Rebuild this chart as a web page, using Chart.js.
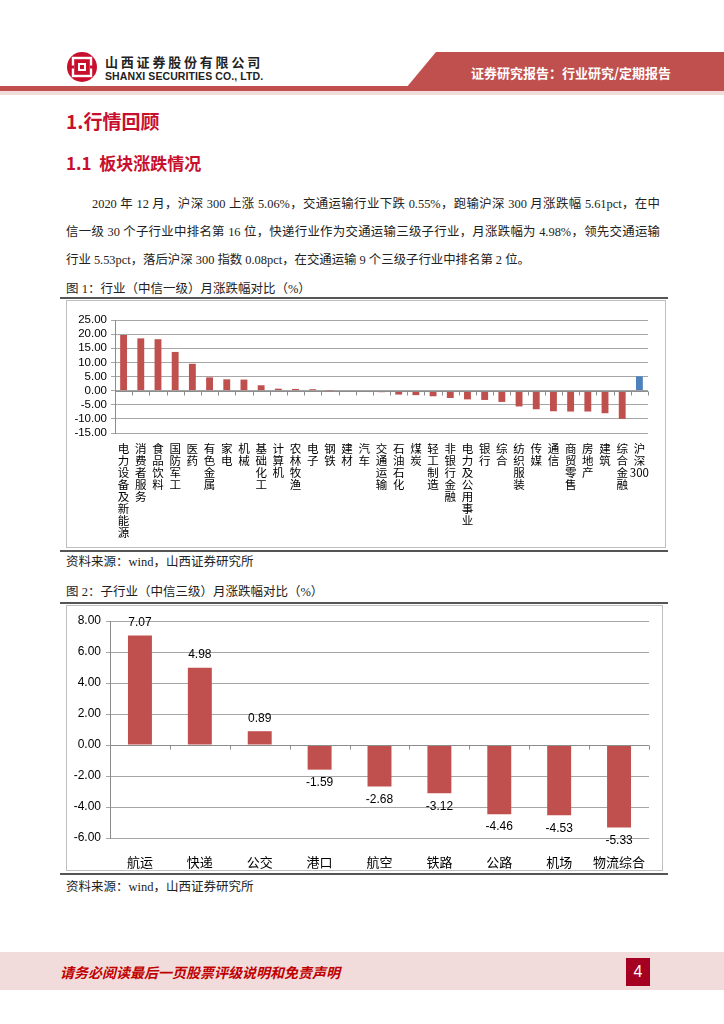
<!DOCTYPE html>
<html lang="zh-CN">
<head>
<meta charset="utf-8">
<title>行情回顾</title>
<script src="https://cdn.jsdelivr.net/npm/chart.js@4.4.1/dist/chart.umd.min.js"></script>
<style>
  html, body { margin: 0; padding: 0; background: #fff; }
  body { width: 724px; height: 1024px; position: relative; overflow: hidden;
         font-family: "Liberation Serif", "Noto Sans CJK SC", serif; color: #222; }
  .abs { position: absolute; white-space: nowrap; }
  .cn-sans { font-family: "Noto Sans CJK SC", sans-serif; }
  .para { position: absolute; left: 66px; width: 594px; font-size: 12.4px; line-height: 18px; }
  .just { text-align: justify; text-align-last: justify; }
  .cap { font-size: 12.5px; line-height: 16px; }
  .rule { position: absolute; height: 1.5px; background: #555; }
  .box { position: absolute; border: 1px solid #bfbfbf; box-sizing: border-box; }
</style>
</head>
<body>

<!-- header -->
<svg class="abs" style="left:66px;top:51px" width="32" height="32" viewBox="0 0 32 32">
  <circle cx="16" cy="16" r="15" fill="#c8102e"/>
  <rect x="7" y="7" width="18" height="18" fill="none" stroke="#fff" stroke-width="2.4"/>
  <rect x="12" y="12" width="8" height="8" fill="#fff"/>
  <rect x="14" y="14" width="4" height="4" fill="#c8102e"/>
  <rect x="3" y="14.5" width="5" height="3" fill="#c8102e"/>
  <rect x="24" y="14.5" width="5" height="3" fill="#c8102e"/>
</svg>
<div class="abs cn-sans" style="left:105px;top:52px;font-size:13px;font-weight:bold;letter-spacing:2.8px;color:#222">山西证券股份有限公司</div>
<div class="abs" style="left:105px;top:70px;font-family:'Liberation Sans',sans-serif;font-size:10.5px;font-weight:bold;letter-spacing:0.1px;color:#222">SHANXI SECURITIES CO., LTD.</div>
<svg class="abs" style="left:0;top:50px" width="724" height="50">
  <polygon points="436,2 724,2 724,38 406,38" fill="#c0504d"/>
  <rect x="0" y="36" width="724" height="5" fill="#c0504d"/>
  <rect x="0" y="41" width="724" height="4" fill="#f2dcdb"/>
</svg>
<div class="abs cn-sans" style="left:471px;top:63px;font-size:13px;font-weight:bold;color:#fff">证券研究报告：行业研究/定期报告</div>

<!-- section titles -->
<div class="abs cn-sans" style="left:66px;top:107px;font-size:19px;font-weight:bold;color:#c8102e">1.行情回顾</div>
<div class="abs cn-sans" style="left:66px;top:150px;font-size:17px;font-weight:bold;color:#c8102e">1.1&nbsp; 板块涨跌情况</div>

<!-- paragraph -->
<div class="para just" style="top:195px;left:92px;width:568px">2020 年 12 月，沪深 300 上涨 5.06%，交通运输行业下跌 0.55%，跑输沪深 300 月涨跌幅 5.61pct，在中</div>
<div class="para just" style="top:223px">信一级 30 个子行业中排名第 16 位，快递行业作为交通运输三级子行业，月涨跌幅为 4.98%，领先交通运输</div>
<div class="para" style="top:251px">行业 5.53pct，落后沪深 300 指数 0.08pct，在交通运输 9 个三级子行业中排名第 2 位。</div>

<!-- figure 1 -->
<div class="abs cap" style="left:66px;top:281px">图 1：行业（中信一级）月涨跌幅对比（%）</div>
<div class="rule" style="left:60px;top:297px;width:608px"></div>
<div class="box" style="left:66px;top:300px;width:600px;height:248px"></div>
<canvas id="industryChart" class="abs" style="left:67px;top:301px" width="598" height="246"></canvas>
<div class="rule" style="left:60px;top:550px;width:608px"></div>
<div class="abs cap" style="left:66px;top:554px">资料来源：wind，山西证券研究所</div>

<!-- figure 2 -->
<div class="abs cap" style="left:66px;top:584px">图 2：子行业（中信三级）月涨跌幅对比（%）</div>
<div class="rule" style="left:60px;top:602px;width:608px"></div>
<div class="box" style="left:66px;top:605px;width:597px;height:266px"></div>
<canvas id="subChart" class="abs" style="left:67px;top:606px" width="595" height="264"></canvas>
<div class="rule" style="left:60px;top:873px;width:608px"></div>
<div class="abs cap" style="left:66px;top:879px">资料来源：wind，山西证券研究所</div>

<!-- footer -->
<div class="abs" style="left:0;top:952px;width:724px;height:38px;background:#f2dcdb"></div>
<div class="abs cn-sans" style="left:60px;top:962px;font-size:14px;font-weight:bold;font-style:italic;color:#c00000">请务必阅读最后一页股票评级说明和免责声明</div>
<div class="abs" style="left:626px;top:958px;width:24px;height:28px;background:#a50021;color:#fff;font-family:'Liberation Sans',sans-serif;font-size:16px;line-height:28px;text-align:center">4</div>

<script>
// Figure 1: CITIC level-1 industries, monthly change (%)
const industryLabels = ['电力设备及新能源', '消费者服务', '食品饮料', '国防军工', '医药', '有色金属', '家电', '机械',
  '基础化工', '计算机', '农林牧渔', '电子', '钢铁', '建材', '汽车', '交通运输', '石油石化', '煤炭', '轻工制造',
  '非银行金融', '电力及公用事业', '银行', '综合', '纺织服装', '传媒', '通信', '商贸零售', '房地产', '建筑',
  '综合金融', '沪深300'];
const industryChange = [19.7, 18.5, 18.2, 13.7, 9.5, 4.7, 4.0, 3.9, 1.9, 0.7, 0.6, 0.5, 0.05, -0.2, -0.3, -0.55,
  -1.4, -1.6, -2.0, -2.6, -3.1, -3.3, -4.0, -5.6, -6.6, -7.3, -7.4, -7.4, -8.0, -10.0, 5.06];
const industryTicks = { min: -15, max: 25, step: 5 };

// Figure 2: CITIC level-3 transport sub-industries, monthly change (%)
const subLabels = ['航运', '快递', '公交', '港口', '航空', '铁路', '公路', '机场', '物流综合'];
const subChange = [7.07, 4.98, 0.89, -1.59, -2.68, -3.12, -4.46, -4.53, -5.33];
const subTicks = { min: -6, max: 8, step: 2 };

const RED = '#c0504d';
const BLUE = '#4f81bd';
const CJK = '"Noto Sans CJK SC", sans-serif';
const NUM = '"Liberation Sans", Arial, sans-serif';

// vertical labels: one character per line, keep "300" together
function stackLabel(text) {
  return text.match(/\d+|./g);
}

// zero line with small tick marks between categories
const zeroLine = {
  id: 'zeroLine',
  afterDatasetsDraw(chart) {
    const { ctx, scales: { x, y }, chartArea } = chart;
    const y0 = Math.round(y.getPixelForValue(0)) + 0.5;
    ctx.save();
    ctx.strokeStyle = '#8c8c8c';
    ctx.lineWidth = 1;
    ctx.beginPath();
    ctx.moveTo(chartArea.left, y0);
    ctx.lineTo(chartArea.right, y0);
    const n = x.ticks.length;
    for (let i = 0; i <= n; i++) {
      const px = Math.round(chartArea.left + (chartArea.right - chartArea.left) * i / n) + 0.5;
      ctx.moveTo(px, y0);
      ctx.lineTo(px, y0 + 4);
    }
    ctx.stroke();
    ctx.restore();
  }
};

// value labels above positive bars, below negative ones
const valueLabels = {
  id: 'valueLabels',
  afterDatasetsDraw(chart) {
    const { ctx } = chart;
    const meta = chart.getDatasetMeta(0);
    const data = chart.data.datasets[0].data;
    ctx.save();
    ctx.font = '12px ' + NUM;
    ctx.fillStyle = '#000';
    ctx.textAlign = 'center';
    ctx.textBaseline = 'middle';
    meta.data.forEach((bar, i) => {
      const v = data[i];
      const ty = v >= 0 ? bar.y - 13 : bar.y + 13;
      ctx.fillText(v.toFixed(2), bar.x, ty);
    });
    ctx.restore();
  }
};

// Set up figure 1
const indCtx = document.getElementById('industryChart').getContext('2d');
const industryChart = new Chart(indCtx, {
  type: 'bar',
  data: {
    labels: industryLabels.map(stackLabel),
    datasets: [{
      data: industryChange,
      backgroundColor: industryLabels.map(l => l === '沪深300' ? BLUE : RED),
      categoryPercentage: 0.8,
      barPercentage: 0.5
    }]
  },
  options: {
    responsive: false,
    animation: false,
    layout: { padding: { top: 19, right: 17, bottom: 0, left: 0 } },
    plugins: { legend: { display: false }, tooltip: { enabled: false } },
    scales: {
      x: {
        grid: { display: false },
        border: { display: false },
        ticks: { color: '#000', font: { family: CJK, size: 11.5, lineHeight: 1.04 }, maxRotation: 0, autoSkip: false, padding: 2 },
        afterFit: (scale) => { scale.height = 114; }
      },
      y: {
        min: industryTicks.min,
        max: industryTicks.max,
        grid: { color: '#a6a6a6', tickLength: 4 },
        border: { color: '#8c8c8c' },
        ticks: { stepSize: industryTicks.step, autoSkip: false, color: '#000', font: { family: NUM, size: 11.5 }, padding: 4,
                 callback: v => v.toFixed(2) },
        afterFit: (scale) => { scale.width = 48; }
      }
    }
  },
  plugins: [zeroLine]
});

// Set up figure 2
const subCtx = document.getElementById('subChart').getContext('2d');
const subChart = new Chart(subCtx, {
  type: 'bar',
  data: {
    labels: subLabels,
    datasets: [{
      data: subChange,
      backgroundColor: RED,
      categoryPercentage: 0.8,
      barPercentage: 0.5
    }]
  },
  options: {
    responsive: false,
    animation: false,
    layout: { padding: { top: 15, right: 13, bottom: 0, left: 0 } },
    plugins: { legend: { display: false }, tooltip: { enabled: false } },
    scales: {
      x: {
        grid: { display: false },
        border: { display: false },
        ticks: { color: '#000', font: { family: CJK, size: 13 }, maxRotation: 0, autoSkip: false, padding: 8 },
        afterFit: (scale) => { scale.height = 32; }
      },
      y: {
        min: subTicks.min,
        max: subTicks.max,
        grid: { color: '#a6a6a6', tickLength: 4 },
        border: { color: '#8c8c8c' },
        ticks: { stepSize: subTicks.step, autoSkip: false, color: '#000', font: { family: NUM, size: 12 }, padding: 5,
                 callback: v => v.toFixed(2) },
        afterFit: (scale) => { scale.width = 43; }
      }
    }
  },
  plugins: [zeroLine, valueLabels]
});
</script>
</body>
</html>
